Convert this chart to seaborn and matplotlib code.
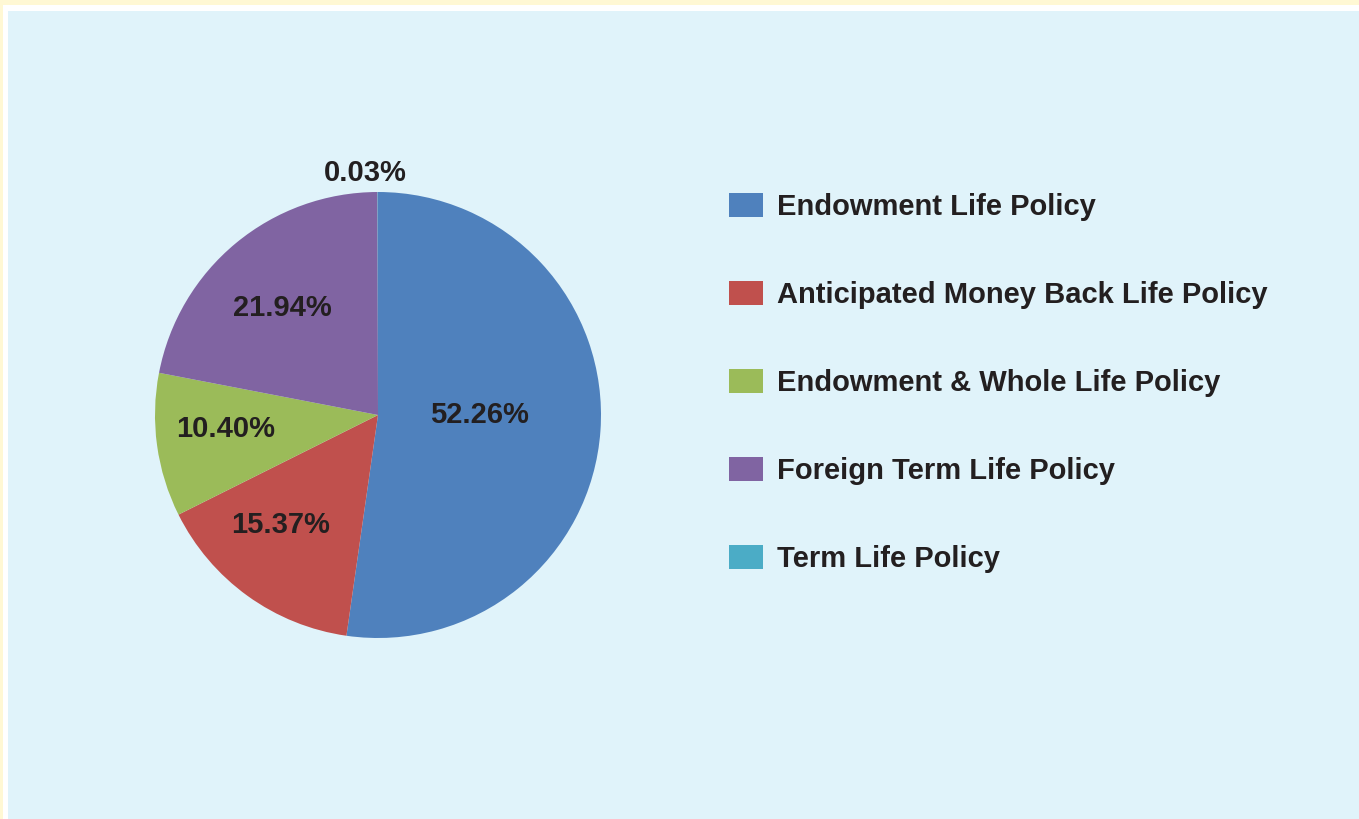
import matplotlib
matplotlib.use("Agg")
import matplotlib.pyplot as plt
import matplotlib.patches as mpatches
import seaborn as sns
import numpy as np

categories = ["Endowment Life Policy", "Anticipated Money Back Life Policy",
              "Endowment & Whole Life Policy", "Foreign Term Life Policy", "Term Life Policy"]
values = [52.26, 15.37, 10.40, 21.94, 0.03]
labels = ["52.26%", "15.37%", "10.40%", "21.94%", "0.03%"]
colors = ["#4f81bd", "#c0504d", "#9bbb59", "#8064a2", "#4bacc6"]
label_dist = [0.455, 0.65, 0.685, 0.655, 1.10]
label_angle_shift = [-5.5, 6.5, 3.5, -1.5, -2.9]

sns.set_style("white")
plt.rcParams['font.family'] = ['Liberation Sans', 'DejaVu Sans']

W, H = 1359, 819
fig = plt.figure(figsize=(W / 100, H / 100), dpi=100)
fig.patch.set_facecolor("#fff8d4")
fig.add_artist(mpatches.Rectangle((3 / W, 0), 1, 1 - 5 / H, transform=fig.transFigure,
                                  facecolor="white", edgecolor="none", zorder=-2))
fig.add_artist(mpatches.Rectangle((8 / W, 0), 1, 1 - 11 / H, transform=fig.transFigure,
                                  facecolor="#e0f3fa", edgecolor="none", zorder=-1))

cx, cy, r = 378, 415, 223
ax = fig.add_axes([(cx - r) / W, (H - cy - r) / H, 2 * r / W, 2 * r / H])
ax.set_facecolor("none")
wedges, _ = ax.pie(values, colors=colors, startangle=90, counterclock=False,
                   radius=1, wedgeprops=dict(linewidth=0))
ax.set_xlim(-1, 1)
ax.set_ylim(-1, 1)
ax.set_aspect("equal")
ax.axis("off")

total = sum(values)
cum = 0
for v, lab, d, sh in zip(values, labels, label_dist, label_angle_shift):
    mid = (cum + v / 2) / total * 360 + sh
    cum += v
    ang = np.deg2rad(90 - mid)
    x, y = d * np.cos(ang), d * np.sin(ang)
    ax.text(x, y, lab, ha="center", va="center_baseline", fontsize=21, fontweight="bold",
            color="#231f20", clip_on=False)

handles = [mpatches.Patch(facecolor=c, edgecolor="none") for c in colors]
leg = fig.legend(handles, categories, loc="upper left",
                 bbox_to_anchor=(729 / W, 1 - 193 / H), frameon=False,
                 prop=dict(size=21, weight="bold"), handlelength=1.15,
                 handleheight=0.9, handletextpad=0.5, labelspacing=2.05,
                 borderpad=0, borderaxespad=0)
for t in leg.get_texts():
    t.set_color("#231f20")

fig.savefig("out.png", dpi=100, facecolor=fig.get_facecolor())
